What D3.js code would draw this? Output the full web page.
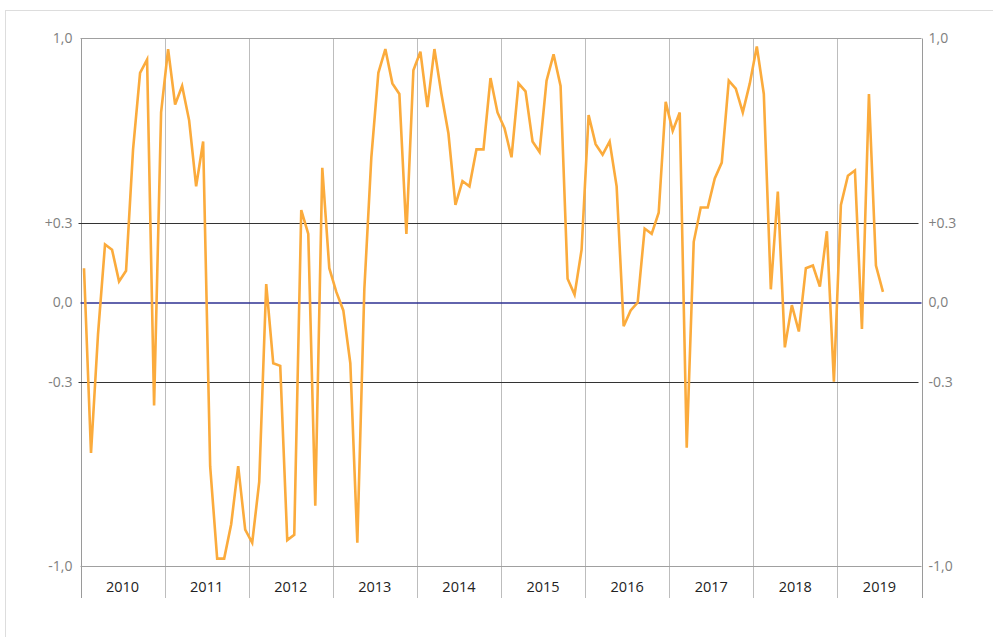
<!DOCTYPE html>
<html lang="en">
<head>
  <meta charset="UTF-8">
  <script src="https://d3js.org/d3.v7.min.js"></script>
  <style>
    body { margin: 0; background: #fff; }
    svg { display: block; }
  </style>
</head>
<body>
  <script>
    const width = 993;
    const height = 637;

    // monthly values, Jan 2010 - Jul 2019
    const values = [
      0.13, -0.57, -0.12, 0.22, 0.20, 0.08, 0.12, 0.58, 0.87, 0.92, -0.39, 0.72,
      0.96, 0.75, 0.82, 0.69, 0.44, 0.61, -0.62, -0.97, -0.97, -0.84, -0.62, -0.86,
      -0.91, -0.68, 0.07, -0.23, -0.24, -0.90, -0.88, 0.35, 0.26, -0.77, 0.51, 0.13,
      0.04, -0.03, -0.23, -0.91, 0.05, 0.55, 0.87, 0.96, 0.83, 0.79, 0.26, 0.88,
      0.95, 0.74, 0.96, 0.79, 0.64, 0.37, 0.46, 0.44, 0.58, 0.58, 0.85, 0.72,
      0.66, 0.55, 0.83, 0.80, 0.61, 0.57, 0.84, 0.94, 0.82, 0.09, 0.03, 0.20,
      0.71, 0.60, 0.56, 0.61, 0.44, -0.09, -0.03, 0.00, 0.28, 0.26, 0.34, 0.76,
      0.65, 0.72, -0.55, 0.23, 0.36, 0.36, 0.47, 0.53, 0.84, 0.81, 0.72, 0.83,
      0.97, 0.79, 0.05, 0.42, -0.17, -0.01, -0.11, 0.13, 0.14, 0.06, 0.27, -0.30,
      0.37, 0.48, 0.50, -0.10, 0.79, 0.14, 0.04
    ];
    const years = [2010, 2011, 2012, 2013, 2014, 2015, 2016, 2017, 2018, 2019];
    const yTicks = [1, 0.3, 0, -0.3, -1];
    const yTickLabels = ["1,0", "+0.3", "0,0", "-0.3", "-1,0"];

    const margin = { left: 80.5, right: 921.5, top: 38.5, bottom: 566.5 };

    const svg = d3.select("body")
      .append("svg")
      .attr("width", width)
      .attr("height", height);

    // outer frame
    svg.append("rect")
      .attr("x", 5.5).attr("y", 10.5)
      .attr("width", 1000).attr("height", 700)
      .attr("fill", "none")
      .attr("stroke", "#dddddd");

    const x = d3.scaleLinear()
      .domain([0, years.length * 12])
      .range([margin.left, margin.right]);

    const y = d3.scaleLinear()
      .domain([-1, 1])
      .range([margin.bottom, margin.top]);

    // year grid lines + ticks under the axis
    svg.selectAll("line.year")
      .data(d3.range(years.length + 1))
      .enter()
      .append("line")
      .attr("class", "year")
      .attr("x1", d => Math.round(x(d * 12)) + 0.5)
      .attr("x2", d => Math.round(x(d * 12)) + 0.5)
      .attr("y1", margin.top)
      .attr("y2", 598)
      .attr("stroke", (d, i) => (i === 0 || i === years.length) ? "#9a9a9a" : "#bdbdbd")
      .attr("stroke-width", 1);

    // top and bottom border
    [1, -1].forEach(v => {
      svg.append("line")
        .attr("x1", margin.left).attr("x2", margin.right)
        .attr("y1", y(v)).attr("y2", y(v))
        .attr("stroke", "#a0a0a0");
    });

    // threshold lines
    [0.3, -0.3].forEach(v => {
      svg.append("line")
        .attr("x1", margin.left - 2).attr("x2", margin.right - 3)
        .attr("y1", Math.round(y(v)) + 0.5).attr("y2", Math.round(y(v)) + 0.5)
        .attr("stroke", "#333333");
    });

    svg.append("line")
      .attr("x1", margin.left).attr("x2", margin.right)
      .attr("y1", Math.round(y(0))).attr("y2", Math.round(y(0)))
      .attr("stroke", "#2e3192")
      .attr("stroke-width", 1.6);

    // y labels, both sides
    svg.selectAll("text.yl")
      .data(yTicks)
      .enter()
      .append("text")
      .attr("class", "yl")
      .attr("x", margin.left - 8)
      .attr("y", d => y(d))
      .attr("dy", "0.35em")
      .attr("text-anchor", "end")
      .attr("font-family", "Open Sans, sans-serif")
      .attr("font-size", 14)
      .attr("fill", "#808080")
      .text((d, i) => yTickLabels[i]);

    svg.selectAll("text.yr")
      .data(yTicks)
      .enter()
      .append("text")
      .attr("class", "yr")
      .attr("x", margin.right + 7)
      .attr("y", d => y(d))
      .attr("dy", "0.35em")
      .attr("text-anchor", "start")
      .attr("font-family", "Open Sans, sans-serif")
      .attr("font-size", 14)
      .attr("fill", "#808080")
      .text((d, i) => yTickLabels[i]);

    // year labels
    svg.selectAll("text.year")
      .data(years)
      .enter()
      .append("text")
      .attr("class", "year")
      .attr("x", (d, i) => x(i * 12 + 6))
      .attr("y", 587)
      .attr("dy", "0.35em")
      .attr("text-anchor", "middle")
      .attr("font-family", "Open Sans, sans-serif")
      .attr("font-size", 14.5)
      .attr("fill", "#222")
      .text(d => d);

    // data line
    const line = d3.line()
      .x((d, i) => x(i + 0.5))
      .y(d => y(d));

    svg.append("path")
      .datum(values)
      .attr("d", line)
      .attr("fill", "none")
      .attr("stroke", "#fbab3c")
      .attr("stroke-width", 2.6)
      .attr("stroke-linejoin", "miter");
  </script>
</body>
</html>
